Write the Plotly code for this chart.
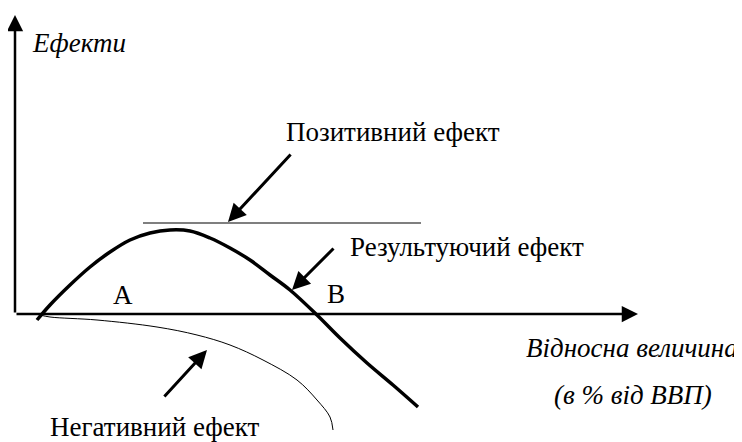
import plotly.graph_objects as go

# Data (chart units: origin at the axes crossing, x = relative size, y = effect)
result_x = [22, 35, 55, 75, 95, 115, 135, 155, 175, 195, 215, 235, 255, 275, 302, 325, 352, 378, 403]
result_y = [-6, 9, 29, 47, 62, 74, 81, 84, 83, 76, 66, 54, 39, 24, -1, -24, -49, -71, -93]

negative_x = [25, 35, 82, 142, 182, 215, 248, 282, 302, 315, 318]
negative_y = [-1, -3, -6, -13, -21, -31, -46, -66, -86, -103, -116]

positive_x = [128, 406]
positive_y = [91, 91]

axis_x_end = 623
axis_y_end = 299

labels_text = ["Позитивний ефект", "Результуючий ефект", "Негативний ефект", "A", "B"]
labels_x = [378, 452, 139, 108, 321]
labels_y = [182, 67, -113, 19, 20]

# arrows: head (x, y), tail (ax, ay)
arrow_head_x = [213, 277, 192]
arrow_head_y = [92, 24, -36]
arrow_tail_x = [277, 320, 148]
arrow_tail_y = [161, 67, -84]

FONT = "Liberation Serif"
FS = 27

fig = go.Figure()

fig.add_trace(go.Scatter(x=result_x, y=result_y, mode="lines",
                         line=dict(color="black", width=3.5, shape="spline"),
                         hoverinfo="skip"))
fig.add_trace(go.Scatter(x=negative_x, y=negative_y, mode="lines",
                         line=dict(color="black", width=1, shape="spline"),
                         hoverinfo="skip"))
fig.add_trace(go.Scatter(x=positive_x, y=positive_y, mode="lines",
                         line=dict(color="black", width=1.2),
                         hoverinfo="skip"))

annotations = []
# axes arrows
annotations.append(dict(x=axis_x_end, y=0, ax=0, ay=0, xref="x", yref="y", axref="x", ayref="y",
                        text="", showarrow=True, arrowhead=2, arrowsize=1.3, arrowwidth=2.5,
                        arrowcolor="black", standoff=0, startstandoff=0))
annotations.append(dict(x=0, y=axis_y_end, ax=0, ay=0, xref="x", yref="y", axref="x", ayref="y",
                        text="", showarrow=True, arrowhead=2, arrowsize=1.3, arrowwidth=2.5,
                        arrowcolor="black", standoff=0, startstandoff=0))
for hx, hy, tx, ty in zip(arrow_head_x, arrow_head_y, arrow_tail_x, arrow_tail_y):
    annotations.append(dict(x=hx, y=hy, ax=tx, ay=ty, xref="x", yref="y", axref="x", ayref="y",
                            text="", showarrow=True, arrowhead=2, arrowsize=1.2, arrowwidth=3,
                            arrowcolor="black", standoff=0, startstandoff=0))
for t, x, y in zip(labels_text, labels_x, labels_y):
    annotations.append(dict(x=x, y=y, xref="x", yref="y", text=t, showarrow=False,
                            font=dict(family=FONT, size=FS, color="black")))
# axis titles (italic)
annotations.append(dict(x=15, y=271, xref="x", yref="y", text="<i>Ефекти</i>", showarrow=False,
                        xanchor="left", font=dict(family=FONT, size=FS, color="black")))
annotations.append(dict(x=617, y=-34, xref="x", yref="y", text="<i>Відносна величина</i>", showarrow=False,
                        font=dict(family=FONT, size=FS, color="black")))
annotations.append(dict(x=618, y=-81, xref="x", yref="y", text="<i>(в % від ВВП)</i>", showarrow=False,
                        font=dict(family=FONT, size=FS, color="black")))

# the page has an 8px body margin, so the figure is drawn 8px in from the corner
fig.update_layout(
    width=734, height=434,
    margin=dict(l=0, r=0, t=0, b=0),
    paper_bgcolor="white", plot_bgcolor="white",
    showlegend=False,
    font=dict(family=FONT),
    annotations=annotations,
    xaxis=dict(range=[-7, 727], visible=False, fixedrange=True),
    yaxis=dict(range=[-128, 306], visible=False, fixedrange=True),
)

fig.write_html("out.html")
